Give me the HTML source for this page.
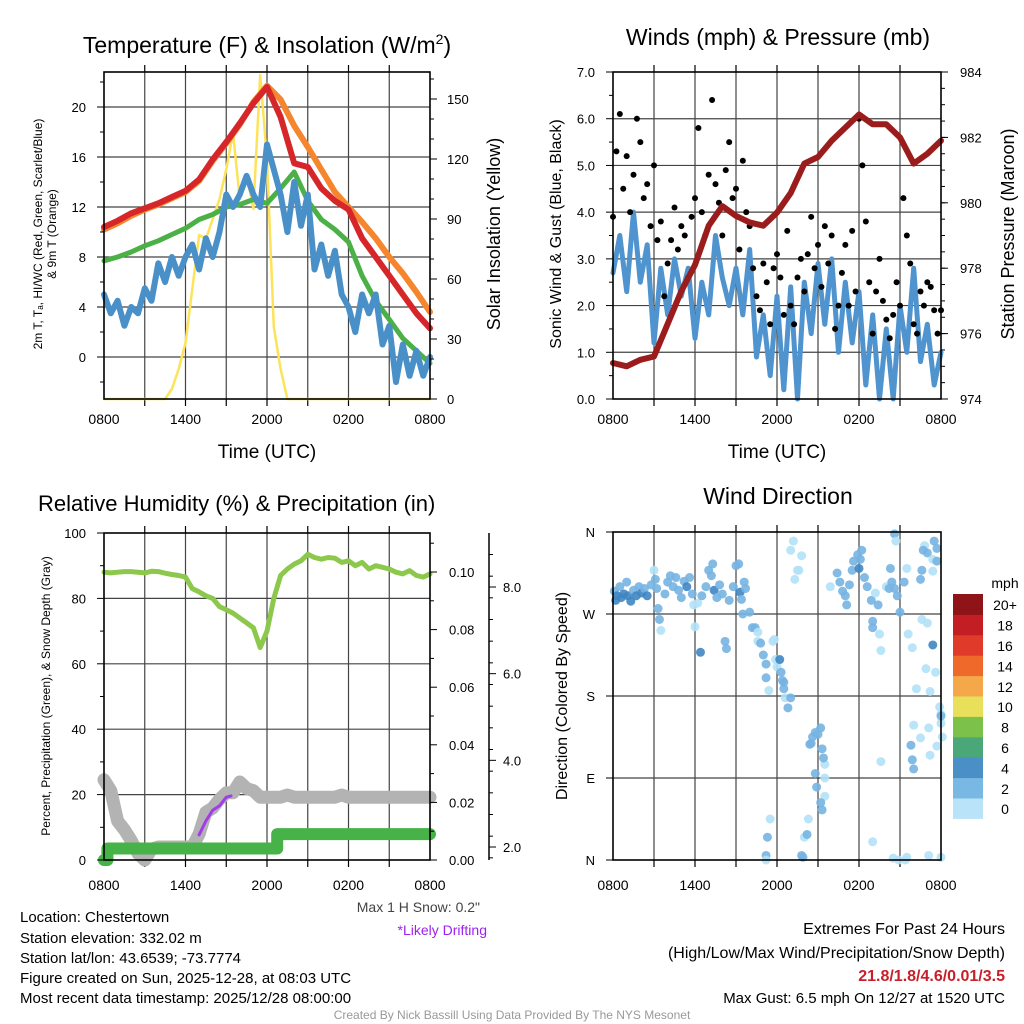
<!DOCTYPE html>
<html><head><meta charset="utf-8"><style>
body{margin:0;background:#fff;}
svg{display:block;font-family:"Liberation Sans",sans-serif;}
</style></head><body>
<svg id="chart" width="1024" height="1024" viewBox="0 0 1024 1024" xmlns="http://www.w3.org/2000/svg">
<rect x="0" y="0" width="1024" height="1024" fill="#fff"/>
<g id="p1"></g>
<g id="p2"></g>
<g id="p3"></g>
<g id="p4"></g>
<g id="txt" font-size="15" fill="#000">
<text x="20" y="922">Location: Chestertown</text>
<text x="20" y="943">Station elevation: 332.02 m</text>
<text x="20" y="963">Station lat/lon: 43.6539; -73.7774</text>
<text x="20" y="983">Figure created on Sun, 2025-12-28, at 08:03 UTC</text>
<text x="20" y="1003">Most recent data timestamp: 2025/12/28 08:00:00</text>
<text x="480" y="912" text-anchor="end" fill="#444" font-size="14">Max 1 H Snow: 0.2"</text>
<text x="487" y="935" text-anchor="end" fill="#a020f0" font-size="14">*Likely Drifting</text>
<text x="1005" y="934" text-anchor="end" font-size="16">Extremes For Past 24 Hours</text>
<text x="1005" y="958" text-anchor="end" font-size="16">(High/Low/Max Wind/Precipitation/Snow Depth)</text>
<text x="1005" y="981" text-anchor="end" font-size="16" font-weight="bold" fill="#c8202a">21.8/1.8/4.6/0.01/3.5</text>
<text x="1005" y="1003" text-anchor="end" font-size="15">Max Gust: 6.5 mph On 12/27 at 1520 UTC</text>
<text x="512" y="1019" text-anchor="middle" font-size="12" fill="#999">Created By Nick Bassill Using Data Provided By The NYS Mesonet</text>
</g>
</svg>
<script>
// ---------- data ----------
const xTickLabels = ["0800","1400","2000","0200","0800"];
const tempRed = [10.4,10.9,11.5,11.9,12.3,12.8,13.3,14.2,15.8,17.2,18.7,20.3,21.6,19.2,15.5,15.2,13.5,12.5,11.8,9.5,8,6.5,5,3.5,2.3];
const tempOrange = [10.2,10.7,11.3,11.8,12.2,12.7,13.2,14.1,15.7,17.1,18.6,20.4,21.7,20.6,18.5,16.8,15,13.2,12,10.8,9.5,8,6.7,5.2,3.6];
const tempGreen = [7.7,8,8.4,8.9,9.3,9.8,10.3,11,11.4,12,12.2,12.6,12.3,13.5,14.8,12.5,11,10.2,9.2,6.5,4.5,3,1.5,0.5,-0.5];
const tempBlue = [5,3.5,4.5,2.5,4,3.5,5.5,4.5,7.5,6,8,6.5,8,9,7,9.5,8,10,13,12,13,14.5,13,12,17,15,13,10,14,10.5,13,7,9,6.5,8.5,5,4,2,5,3.5,5,1,2.5,-2,1,-1.5,0.5,-1.5,0];
const insolation = [0,0,0,0,0,0,0,0,0,0,5,15,28,55,82,80,90,100,115,133,100,112,95,162,120,36,15,0,0,0,0,0,0,0,0,0,0,0,0,0,0,0,0,0,0,0,0,0,0];
const tempTicks = [0,4,8,12,16,20];
const solarTicks = [0,30,60,90,120,150];

const windSpeed = [2.7,3.5,2.3,4.0,2.5,3.3,1.2,2.8,1.8,3.0,2.2,2.8,1.3,2.5,1.8,3.5,2.6,2.0,2.8,1.8,3.2,0.9,1.8,0.5,2.2,0.2,2.4,0.0,2.5,1.4,2.9,1.6,3.0,1.0,2.5,1.2,2.3,0.3,1.8,0.0,1.5,0.0,2.0,1.0,2.8,0.8,1.6,0.3,1.0];
const windGust = [3.9,5.3,6.1,4.5,5.2,4.0,4.8,6.0,5.5,4.3,4.6,3.7,5.0,3.4,3.8,2.2,2.9,3.4,4.1,3.2,3.7,3.5,2.6,3.9,4.3,5.8,4.0,3.5,4.8,6.4,4.6,4.2,3.5,4.9,5.5,4.3,4.5,3.2,5.1,4.0,3.7,2.8,2.2,1.9,2.9,2.5,1.6,2.8,3.1,2.6,1.8,3.6,2.0,1.6,2.6,3.0,2.3,3.1,3.9,2.8,3.3,2.4,3.7,2.9,3.5,1.5,2.0,2.7,3.3,2.0,3.6,2.3,6.0,5.0,3.8,2.5,1.4,2.3,3.0,2.1,1.7,1.3,1.8,2.5,2.0,4.3,3.5,2.9,1.6,1.4,2.3,2.0,2.5,2.4,1.9,1.4,1.9];
const pressure = [975.1,975.0,975.2,975.3,976.3,977.3,978.1,979.3,979.9,979.6,979.4,979.3,979.7,980.3,981.2,981.4,981.9,982.3,982.7,982.4,982.4,982.0,981.2,981.5,981.9];
const windTicks = [0,1,2,3,4,5,6,7];
const pressTicks = [974,976,978,980,982,984];

const rh = [88,87.8,88,88.2,88.2,88,87.8,88.3,88.2,87.7,87.3,87,86.5,83,82,80.8,80,77.5,76.5,75.5,74,72.5,71,65,70,80,87,89,90.5,91.5,93.5,92.5,92,92.5,92.3,91,91.5,90,91,89,90,89.5,89,88,87.5,88.5,87,86.5,87.5];
const precip = [0,0.004,0.004,0.004,0.004,0.004,0.004,0.004,0.004,0.004,0.004,0.004,0.004,0.004,0.004,0.004,0.004,0.004,0.004,0.004,0.004,0.004,0.004,0.004,0.004,0.004,0.009,0.009,0.009,0.009,0.009,0.009,0.009,0.009,0.009,0.009,0.009,0.009,0.009,0.009,0.009,0.009,0.009,0.009,0.009,0.009,0.009,0.009,0.009];
const snowDepth = [3.55,3.3,2.6,2.4,2.15,1.85,1.7,1.95,2.0,2.0,2.0,2.0,2.0,2.0,2.3,2.8,2.9,3.1,3.25,3.25,3.5,3.35,3.3,3.15,3.15,3.15,3.15,3.2,3.15,3.15,3.15,3.15,3.15,3.15,3.15,3.2,3.15,3.15,3.15,3.15,3.15,3.15,3.15,3.15,3.15,3.15,3.15,3.15,3.15];
const driftHours = [7.0,7.5,8.0,8.5,9.0,9.35];
const driftDepth = [2.28,2.6,2.85,2.95,3.15,3.18];
const rhTicks = [0,20,40,60,80,100];
const precipTicks = [0,0.02,0.04,0.06,0.08,0.10];
const snowTicks = [2,4,6,8];

const dirHours = [0.1,0.2,0.3,0.5,0.6,0.8,1.0,1.1,1.3,1.5,1.7,1.9,2.1,2.3,2.5,2.8,3.0,3.1,3.2,3.3,3.4,3.5,3.8,4.0,4.2,4.4,4.6,4.8,5.0,5.2,5.4,5.6,5.8,5.9,6.0,6.2,6.4,6.5,6.8,7.0,7.2,7.3,7.4,7.6,7.8,8.0,8.2,8.3,8.5,8.8,9.0,9.2,9.3,9.4,9.6,9.7,9.5,10.0,10.2,10.4,10.6,10.6,10.8,11.0,11.2,11.2,11.4,11.7,11.8,11.9,12.0,12.2,12.3,12.4,12.5,12.5,12.6,12.8,13.0,11.5,11.3,11.2,11.2,13.2,13.0,13.6,13.8,13.5,13.3,14.4,14.6,14.8,14.5,15.2,15.0,15.3,15.5,15.4,14.8,14.9,15.5,15.5,15.2,15.3,14.3,14.0,14.2,13.8,13.9,15.9,16.4,16.6,16.8,17.0,17.1,17.3,17.5,17.6,17.9,18.0,18.1,18.2,18.4,18.6,18.9,19.0,19.0,19.2,19.4,19.5,19.6,20.0,20.2,20.3,20.4,20.6,20.8,21.0,21.3,21.5,20.6,20.7,19.6,19.0,20.5,20.9,21.6,21.9,22.2,22.6,23.0,22.0,21.8,21.9,22.0,22.5,21.5,21.4,23.1,22.9,23.2,23.4,23.6,23.1,23.2,23.7,23.9,24.0,24.0,24.0,22.8,22.7,23.0,22.6,22.5,23.4,23.4,23.7,23.5,23.7,24.0,24.1];
const dirDegrees = [295,285,290,300,288,292,305,290,284,296,290,300,293,298,290,302,318,308,298,276,264,252,292,305,312,300,310,296,288,306,300,310,292,280,256,282,228,290,300,318,312,325,296,288,302,292,240,232,285,300,323,325,294,286,305,298,270,272,255,255,250,240,238,225,215,200,186,240,242,220,212,220,206,197,195,188,178,167,178,45,25,5,0,350,340,318,334,318,308,127,135,140,128,145,138,122,105,112,95,80,90,70,63,55,45,25,28,5,3,300,315,305,295,290,280,302,318,328,335,320,330,340,310,300,285,262,255,293,280,248,230,300,298,320,305,298,290,272,305,320,358,350,108,20,2,0,248,233,188,264,260,148,126,110,100,134,3,0,5,210,185,236,206,145,115,125,168,160,150,3,345,340,337,318,308,330,317,328,350,342,158,135];
const dirSpeeds = [3,5,5,3,5,5,3,5,5,3,5,3,5,3,5,3,1,3,3,3,3,1,3,3,3,3,3,3,3,3,5,3,3,1,1,1,4,3,3,3,3,3,5,3,3,3,3,3,3,3,3,3,5,3,3,3,3,3,3,3,1,1,3,3,3,3,1,1,1,1,1,5,3,3,3,3,1,3,3,1,3,3,1,1,1,1,1,1,1,3,3,3,3,3,3,3,1,3,3,3,1,1,3,3,1,1,3,3,3,1,3,3,3,3,3,3,3,3,3,5,3,3,3,3,3,3,3,1,3,1,1,1,3,3,3,3,3,3,3,1,3,1,1,1,1,1,1,1,1,1,1,1,3,3,3,1,1,1,1,1,1,5,1,1,1,1,1,1,1,1,1,3,3,3,3,1,1,3,3,3,3,1,1];
const dirTickLabels = ["N","E","S","W","N"];
const cbarLabels = ["0","2","4","6","8","10","12","14","16","18","20+"];
const cbarColors = ["#b8e3f8","#7ab8e4","#4a8fc6","#4aa878","#7cc24a","#e8e05a","#f5a84a","#ef6a2a","#e03a2a","#c21e24","#8e1418"];

// ---------- helpers ----------
const NS = "http://www.w3.org/2000/svg";
function el(parent, tag, attrs, text){
  const e = document.createElementNS(NS, tag);
  for (const k in attrs) e.setAttribute(k, attrs[k]);
  if (text !== undefined) e.textContent = text;
  parent.appendChild(e);
  return e;
}
function lin(d0,d1,r0,r1){ return v => r0 + (v-d0)*(r1-r0)/(d1-d0); }
function hoursStep(n, step){ const a=[]; for(let i=0;i<n;i++) a.push(i*step); return a; }
function pathD(xs, ys){ return xs.map((x,i)=>(i?"L":"M")+x.toFixed(1)+","+ys[i].toFixed(1)).join(""); }

function frame(g, L, T, R, B, hGrid){
  for (let h=3; h<24; h+=3){
    const x = L + (R-L)*h/24;
    const ln = el(g,"line",{x1:x,y1:T,x2:x,y2:B,stroke:"#444","stroke-width":1.2});
    
    
    const t1 = el(g,"line",{x1:x,y1:T,x2:x,y2:T-7,stroke:"#000","stroke-width":1.2});
    
    
    const t2 = el(g,"line",{x1:x,y1:B,x2:x,y2:B+7,stroke:"#000","stroke-width":1.2});
    
    
  }
  hGrid.forEach(y=>{
    const ln = el(g,"line",{x1:L,y1:y,x2:R,y2:y,stroke:"#444","stroke-width":1.2});
    
    
  });
}
function border(g,L,T,R,B){
  const r = el(g,"rect",{x:L,y:T,width:R-L,height:B-T,fill:"none",stroke:"#000","stroke-width":1.6});
  
  
}
function xLabels(g,L,R,y){
  xTickLabels.forEach((s,i)=>{
    const t = el(g,"text",{x:L+(R-L)*i/4,y:y,"text-anchor":"middle","font-size":14},s);
    
    
  });
}
function line(g, xs, ys, color, w, name){
  const p = el(g,"path",{d:pathD(xs,ys),fill:"none",stroke:color,"stroke-width":w,"stroke-linejoin":"round","stroke-linecap":"round"});
  
  
  return p;
}
function title(g,x,y,s,anchor,size){
  const t = el(g,"text",{x:x,y:y,"text-anchor":anchor||"middle","font-size":size||23},s);
  
  
  return t;
}
function vlabel(g,x,y,s,size,name){
  const t = el(g,"text",{x:0,y:0,"text-anchor":"middle","font-size":size,transform:`translate(${x},${y}) rotate(-90)`},s);
  
  
  return t;
}

// ---------- Panel 1 ----------
(function(){
  const g = document.getElementById("p1");
  const L=104,T=72,R=430,B=399;
  const xS = lin(0,24,L,R);
  const yT = lin(0,4,357,307);
  const yS = lin(0,150,399,99);
  frame(g,L,T,R,B,tempTicks.map(yT));
  const hh = hoursStep(49,0.5), h1 = hoursStep(25,1);
  line(g, hh.map(xS), insolation.map(yS), "#fde35a", 2.5, "insolation-line");
  line(g, h1.map(xS), tempOrange.map(yT), "#f5862e", 6, "temp-9m-line");
  line(g, h1.map(xS), tempRed.map(yT), "#d7262a", 6, "temp-2m-line");
  line(g, h1.map(xS), tempGreen.map(yT), "#4bb146", 5, "dewpoint-line");
  line(g, hh.map(xS), tempBlue.map(yT), "#4a90c8", 6, "windchill-line");
  border(g,L,T,R,B);
  tempTicks.forEach(v=>{
    const t = el(g,"text",{x:L-18,y:yT(v)+5,"text-anchor":"end","font-size":13},String(v));
    
    
    el(g,"line",{x1:L,y1:yT(v),x2:L-7,y2:yT(v),stroke:"#000"});
  });
  for(let v=-2; v<=22; v+=2){ el(g,"line",{x1:L,y1:yT(v),x2:L-4,y2:yT(v),stroke:"#000"}); }
  solarTicks.forEach(v=>{
    const t = el(g,"text",{x:R+17,y:yS(v)+5,"text-anchor":"start","font-size":13},String(v));
    
    
    el(g,"line",{x1:R,y1:yS(v),x2:R+7,y2:yS(v),stroke:"#000"});
  });
  for(let v=0; v<=160; v+=10){ el(g,"line",{x1:R,y1:yS(v),x2:R+4,y2:yS(v),stroke:"#000"}); }
  xLabels(g,L,R,424);
  const tx = el(g,"text",{x:267,y:458,"text-anchor":"middle","font-size":19},"Time (UTC)");
  
  
  const tt = title(g,267,53,"Temperature (F) & Insolation (W/m");
  const sup = el(tt,"tspan",{dy:-9,"font-size":14},"2");
  el(tt,"tspan",{dy:9},")");
  const yl = el(g,"text",{x:0,y:0,"text-anchor":"middle","font-size":12,transform:"translate(42,234) rotate(-90)"});
  
  
  el(yl,"tspan",{x:0,dy:0},"2m T, T\u2090, HI/WC (Red, Green, Scarlet/Blue)");
  el(yl,"tspan",{x:0,dy:14},"& 9m T (Orange)");
  vlabel(g,500,234,"Solar Insolation (Yellow)",18,"solar-axis-title");
})();

// ---------- Panel 2 ----------
(function(){
  const g = document.getElementById("p2");
  const L=613,T=72,R=941,B=399;
  const xS = lin(0,24,L,R);
  const yW = lin(0,7,399,72);
  const yP = lin(974,984,399,72);
  frame(g,L,T,R,B,windTicks.slice(1,7).map(yW));
  const hh = hoursStep(49,0.5), hq = hoursStep(97,0.25), h1 = hoursStep(25,1);
  line(g, hh.map(xS), windSpeed.map(yW), "#4f94cf", 5, "sonic-wind-line");
  windGust.forEach((v,i)=>{
    const c = el(g,"circle",{cx:xS(hq[i]),cy:yW(v),r:3,fill:"#000"});
    
    
  });
  line(g, h1.map(xS), pressure.map(yP), "#9b1c1c", 6, "pressure-line");
  border(g,L,T,R,B);
  windTicks.forEach(v=>{
    const t = el(g,"text",{x:L-18,y:yW(v)+5,"text-anchor":"end","font-size":13},v.toFixed(1));
    
    
    el(g,"line",{x1:L,y1:yW(v),x2:L-7,y2:yW(v),stroke:"#000"});
  });
  for(let v=0.5; v<7; v+=1){ el(g,"line",{x1:L,y1:yW(v),x2:L-4,y2:yW(v),stroke:"#000"}); }
  pressTicks.forEach(v=>{
    const t = el(g,"text",{x:R+19,y:yP(v)+5,"text-anchor":"start","font-size":13},String(v));
    
    
    el(g,"line",{x1:R,y1:yP(v),x2:R+7,y2:yP(v),stroke:"#000"});
  });
  for(let v=974.5; v<984; v+=0.5){ el(g,"line",{x1:R,y1:yP(v),x2:R+4,y2:yP(v),stroke:"#000"}); }
  xLabels(g,L,R,424);
  const tx = el(g,"text",{x:777,y:458,"text-anchor":"middle","font-size":19},"Time (UTC)");
  
  
  title(g,778,45,"Winds (mph) & Pressure (mb)");
  vlabel(g,561,234,"Sonic Wind & Gust (Blue, Black)",16,"wind-axis-title");
  vlabel(g,1014,234,"Station Pressure (Maroon)",18,"pressure-axis-title");
})();

// ---------- Panel 3 ----------
(function(){
  const g = document.getElementById("p3");
  const L=104,T=533,R=430,B=860;
  const xS = lin(0,24,L,R);
  const yR = lin(0,100,860,533);
  const yPc = lin(0,0.1,860,572);
  const yS = lin(2,8,847,587);
  frame(g,L,T,R,B,rhTicks.slice(1,5).map(yR));
  const hh = hoursStep(49,0.5);
  line(g, hh.map(xS), snowDepth.map(yS), "#b3b3b3", 13, "snow-depth-line");
  line(g, driftHours.map(xS), driftDepth.map(yS), "#a23be8", 3, "drifting-line");
  const px=[], py=[];
  precip.forEach((v,i)=>{ if(i>0 && v!==precip[i-1]){ px.push(xS(hh[i]-0.25)); py.push(yPc(precip[i-1])); px.push(xS(hh[i]-0.25)); py.push(yPc(v)); } px.push(xS(hh[i])); py.push(yPc(v)); });
  const pp = el(g,"path",{d:pathD(px,py),fill:"none",stroke:"#46b248","stroke-width":12,"stroke-linejoin":"round","stroke-linecap":"round"});
  
  
  line(g, hh.map(xS), rh.map(yR), "#8cc84b", 5, "rh-line");
  border(g,L,T,R,B);
  rhTicks.forEach(v=>{
    const t = el(g,"text",{x:L-18,y:yR(v)+5,"text-anchor":"end","font-size":13},String(v));
    
    
    el(g,"line",{x1:L,y1:yR(v),x2:L-7,y2:yR(v),stroke:"#000"});
  });
  for(let v=10; v<100; v+=20){ el(g,"line",{x1:L,y1:yR(v),x2:L-4,y2:yR(v),stroke:"#000"}); }
  precipTicks.forEach(v=>{
    const t = el(g,"text",{x:R+19,y:yPc(v)+5,"text-anchor":"start","font-size":13},v.toFixed(2));
    
    
    el(g,"line",{x1:R,y1:yPc(v),x2:R+7,y2:yPc(v),stroke:"#000"});
  });
  for(let v=0.01; v<0.115; v+=0.02){ el(g,"line",{x1:R,y1:yPc(v),x2:R+4,y2:yPc(v),stroke:"#000"}); }
  const ax2 = el(g,"line",{x1:489,y1:533,x2:489,y2:860,stroke:"#000","stroke-width":1.5});
  
  
  snowTicks.forEach(v=>{
    const t = el(g,"text",{x:503,y:yS(v)+5,"text-anchor":"start","font-size":13},v.toFixed(1));
    
    
    el(g,"line",{x1:489,y1:yS(v),x2:496,y2:yS(v),stroke:"#000"});
  });
  for(let v=1.75; v<9; v+=0.5){ if(yS(v)>533 && yS(v)<860) el(g,"line",{x1:489,y1:yS(v),x2:493,y2:yS(v),stroke:"#000"}); }
  xLabels(g,L,R,890);
  title(g,38,511,"Relative Humidity (%) & Precipitation (in)","start",22);
  vlabel(g,50,696,"Percent, Precipitation (Green), & Snow Depth (Gray)",12,"rh-axis-title");
})();

// ---------- Panel 4 ----------
(function(){
  const g = document.getElementById("p4");
  const L=613,T=532,R=941,B=860;
  const xS = lin(0,24,L,R);
  const yD = lin(0,360,860,532);
  frame(g,L,T,R,B,[90,180,270].map(yD));
  const col = s => s<2 ? "#b3e1f7" : (s<4 ? "#76b4e2" : "#3f86c2");
  dirHours.forEach((h,i)=>{
    const c = el(g,"circle",{cx:xS(h),cy:yD(dirDegrees[i]),r:4.5,fill:col(dirSpeeds[i]),"fill-opacity":0.9});
    
    
  });
  border(g,L,T,R,B);
  dirTickLabels.forEach((s,i)=>{
    const v = i*90;
    const t = el(g,"text",{x:L-18,y:yD(v)+5,"text-anchor":"end","font-size":13},s);
    
    
    el(g,"line",{x1:L,y1:yD(v),x2:L-7,y2:yD(v),stroke:"#000"});
  });
  xLabels(g,L,R,890);
  title(g,778,504,"Wind Direction");
  vlabel(g,567,696,"Direction (Colored By Speed)",16,"direction-axis-title");
  // colorbar
  const cbT=594, cbH=20.4;
  cbarColors.forEach((c,i)=>{
    const y = cbT + (cbarColors.length-1-i)*cbH;
    const r = el(g,"rect",{x:953,y:y,width:30,height:cbH+0.5,fill:c});
    
    
    const t = el(g,"text",{x:1005,y:y+cbH/2+6,"text-anchor":"middle","font-size":14},cbarLabels[i]);
    
    
  });
  const u = el(g,"text",{x:1005,y:588,"text-anchor":"middle","font-size":14},"mph");
  
  
})();
</script>
</body></html>
